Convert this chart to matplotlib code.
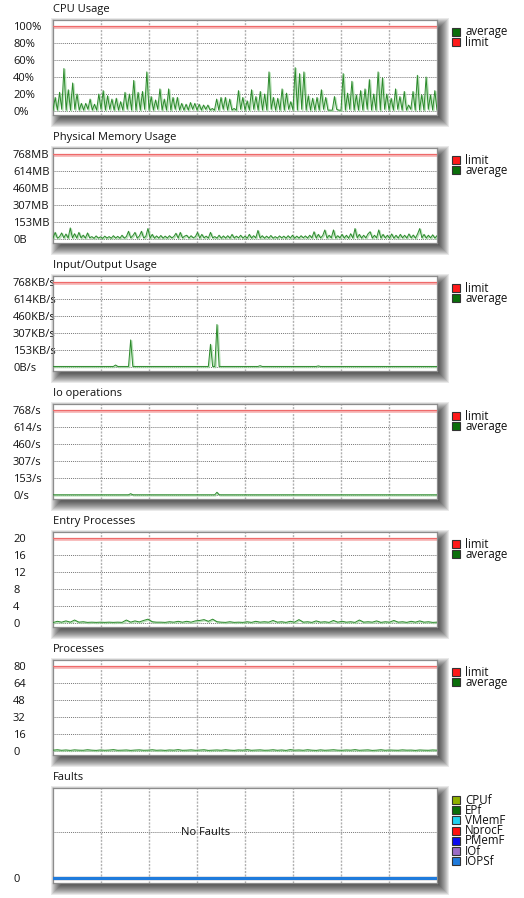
import numpy as np
import matplotlib
matplotlib.use('Agg')
from matplotlib import pyplot as plt
from matplotlib import transforms
from matplotlib.patches import Rectangle

plt.rcParams['font.family'] = ['Open Sans', 'DejaVu Sans']

W, H = 524, 898

# ---- data ----
cpu_ticks = [0, 20, 40, 60, 80, 100]
cpu_tick_labels = ['0%', '20%', '40%', '60%', '80%', '100%']
cpu_limit = 100
cpu_peaks = [16, 22, 50, 25, 33, 20, 9, 9, 14, 8, 20, 24, 18, 14, 15, 11, 22, 20, 36, 22,
             23, 46, 17, 13, 26, 14, 26, 16, 16, 9, 8, 10, 9, 8, 7, 7, 3, 14, 16, 16,
             14, 3, 24, 16, 12, 25, 17, 23,
             20, 46, 16, 15, 26, 21, 11, 51, 44, 46, 18, 15, 16, 25, 16, 1, 17, 1, 44, 21,
             35, 19, 24, 26, 37, 20, 46, 39, 20, 15, 26, 17, 23, 7, 23, 42, 19, 40, 19, 24]
cpu_troughs = [1, 1, 2, 1, 1, 2, 1, 1, 2, 1, 1, 2, 1, 2, 1, 1, 1, 2, 1, 1,
               1, 2, 1, 1, 2, 1, 1, 1, 2, 1, 1, 1, 2, 1, 1, 2, 1, 1, 1, 2,
               1, 1, 1, 2, 1, 1, 2, 1, 1, 1, 2, 1, 1, 1, 2, 1, 1, 2, 1, 1,
               1, 1, 2, 1, 1, 2, 1, 1, 2, 1, 1, 1, 2, 1, 1, 1, 2, 1, 1, 2,
               1, 1, 2, 1, 1, 1, 2, 1, 1]

mem_ticks = [0, 153.6, 307.2, 460.8, 614.4, 768]
mem_tick_labels = ['0B', '153MB', '307MB', '460MB', '614MB', '768MB']
mem_limit = 768
mem_values = [8, 60, 8, 20, 55, 10, 45, 8, 100, 10,
              48, 8, 60, 10, 35, 8, 55, 10, 22, 6,
              28, 8, 20, 6, 26, 8, 22, 7, 30, 8,
              24, 7, 34, 8, 22, 70, 10, 30, 60, 8,
              26, 70, 10, 22, 95, 8, 42, 7, 28, 8,
              32, 7, 26, 8, 30, 10, 22, 52, 8, 60,
              10, 26, 34, 8, 30, 10, 22, 60, 8, 42,
              10, 26, 8, 60, 10, 22, 8, 34, 7, 28,
              8, 30, 7, 42, 8, 26, 10, 34, 8, 26,
              7, 42, 8, 30, 10, 78, 8, 30, 7, 26,
              8, 32, 7, 22, 8, 28, 10, 26, 7, 30,
              8, 34, 7, 26, 8, 30, 10, 28, 8, 34,
              10, 66, 8, 42, 10, 30, 82, 8, 34, 10,
              82, 8, 30, 10, 42, 8, 34, 7, 48, 8,
              95, 10, 42, 8, 34, 10, 46, 66, 8, 34,
              10, 82, 8, 42, 10, 34, 8, 46, 7, 34,
              8, 42, 10, 34, 8, 46, 10, 36, 8, 46,
              95, 10, 42, 8, 34, 10, 38, 8, 30]

io_ticks = [0, 153.6, 307.2, 460.8, 614.4, 768]
io_tick_labels = ['0B/s', '153KB/s', '307KB/s', '460KB/s', '614KB/s', '768KB/s']
io_limit = 768
io_values = ([5] * 29 + [18] + [5] * 6 + [245] + [5] * 36 + [205] + [5] * 2 + [384]
             + [5] * 19 + [12] + [5] * 26 + [10] + [5] * 55)

iops_ticks = [0, 153.6, 307.2, 460.8, 614.4, 768]
iops_tick_labels = ['0/s', '153/s', '307/s', '460/s', '614/s', '768/s']
iops_limit = 768
iops_values = [2] * 36 + [12] + [2] * 39 + [25] + [2] * 102

ep_ticks = [0, 4, 8, 12, 16, 20]
ep_tick_labels = ['0', '4', '8', '12', '16', '20']
ep_limit = 20
ep_values = [0.1, 0.4, 0.2, 0.5, 0.2, 0.7, 0.2, 0.3, 0.15, 0.2,
             0.15, 0.2, 0.15, 0.2, 0.15, 0.2, 0.15, 0.7, 0.2, 0.5,
             0.25, 0.6, 0.9, 0.3, 0.2, 0.2, 0.15, 0.3, 0.2, 0.4,
             0.2, 0.4, 0.2, 0.5, 0.6, 0.8, 0.4, 0.9, 0.3, 0.2,
             0.15, 0.3, 0.15, 0.2, 0.15, 0.3, 0.15, 0.4, 0.2, 0.3,
             0.2, 0.6, 0.2, 0.3, 0.15, 0.4, 0.2, 0.8, 0.2, 0.3,
             0.15, 0.5, 0.2, 0.3, 0.15, 0.6, 0.2, 0.4, 0.2, 0.3,
             0.15, 0.7, 0.2, 0.3, 0.2, 0.5, 0.15, 0.3, 0.2, 0.6,
             0.2, 0.3, 0.15, 0.4, 0.2, 0.5, 0.2, 0.3, 0.15, 0.2]

proc_ticks = [0, 16, 32, 48, 64, 80]
proc_tick_labels = ['0', '16', '32', '48', '64', '80']
proc_limit = 80
proc_values = [0.8, 1.2, 0.7, 1.0, 0.6, 1.1, 0.8, 0.7, 1.2, 0.8,
               0.6, 1.0, 0.7, 0.9, 1.3, 0.7, 0.8, 1.0, 0.6, 0.9,
               1.1, 0.7, 0.8, 1.2, 0.7, 0.9, 0.6, 1.0, 0.8, 1.3,
               0.7, 0.8, 1.1, 0.7, 0.9, 1.2, 0.6, 0.8, 1.0, 0.7,
               1.2, 0.8, 0.6, 1.0, 0.8, 1.3, 0.7, 0.9, 1.1, 0.7,
               0.8, 1.2, 0.7, 1.0, 0.6, 1.3, 0.8, 1.0, 0.7, 1.2,
               0.8, 0.6, 1.1, 0.7, 0.9, 1.2, 0.8, 0.7, 1.0, 0.8,
               1.3, 0.7, 0.9, 1.1, 0.6, 0.8, 1.2, 0.7, 1.0, 0.8,
               0.7, 1.1, 0.8, 0.9, 0.6, 1.0, 0.8, 0.7, 1.0, 0.8]

fault_names = ['CPUf', 'EPf', 'VMemF', 'NprocF', 'PMemF', 'IOf', 'IOPSf']
fault_colors = ['#8fb000', '#0a6e0a', '#1ed2f0', '#ff1010', '#0a0af0', '#9a6cc6', '#1f7bdc']
fault_values = [0, 0, 0, 0, 0, 0, 0, 0, 0]

GREEN = '#2b8a2b'
LEG_GREEN = '#0a6e0a'
LEG_RED = '#ff1a1a'

fig = plt.figure(figsize=(W / 100, H / 100), dpi=100)
fig.set_facecolor('w')


def px_offset(dx, dy):
    return transforms.ScaledTranslation(dx / 100, dy / 100, fig.dpi_scale_trans)


def px_axes(top, height=95, left=53, width=384):
    # css-like box shadow under the plot box
    for e in np.linspace(-6, 7, 14):
        fig.add_artist(Rectangle(((left + 5 - e) / W, 1 - (top + height + 5 + e) / H),
                                 (width + 2 * e) / W, (height + 2 * e) / H,
                                 transform=fig.transFigure, color='k', alpha=0.085,
                                 lw=0, zorder=-2))
    ax = fig.add_axes([left / W, 1 - (top + height) / H, width / W, height / H])
    ax.set_facecolor('w')
    for s in ax.spines.values():
        s.set_color('#8c8c8c')
        s.set_linewidth(0.9)
    return ax


def legend(top, entries):
    y = top + 12
    for label, color in entries:
        fig.add_artist(Rectangle((452 / W, 1 - (y + 4) / H), 8 / W, 8 / H,
                                 transform=fig.transFigure, facecolor=color,
                                 edgecolor='#333333', lw=0.8))
        fig.text(465 / W, 1 - y / H, label, fontsize=8.3, va='center', ha='left',
                 color='#111111')
        y += 10.2


def style_axes(ax, n, ticks, labels, title):
    step = ticks[1] - ticks[0]
    ax.set_xlim(0, n - 1)
    ax.set_ylim(-0.235 * step, ticks[-1] + 0.353 * step)
    ax.set_xticks(np.linspace(0, n - 1, 9)[1:-1])
    ax.set_xticklabels([])
    ax.set_yticks(ticks, labels)
    for lab in ax.get_yticklabels():
        lab.set_horizontalalignment('left')
    ax.tick_params(axis='both', length=0)
    ax.tick_params(axis='y', pad=28.8, labelsize=8, labelcolor='#111111')
    ax.grid(axis='y', ls=(0, (1, 1)), color='#777777', lw=0.7, zorder=0)
    ax.grid(axis='x', ls=(0, (1.5, 1)), color='#b0b0b0', lw=1.0, zorder=0)
    ax.set_title(title, loc='left', fontsize=8, pad=6, color='#111111')


def draw_series(ax, values, color=GREEN):
    x = np.arange(len(values))
    ax.plot(x, values, color='#9fd69f', lw=1.2, alpha=0.7, zorder=2,
            transform=ax.transData + px_offset(1.0, -1.0))
    ax.plot(x, values, color=color, lw=0.7, zorder=3)


def draw_limit(ax, value):
    sh = ax.axhline(value, color='#f7b8b8', lw=2.0, zorder=2)
    sh.set_transform(sh.get_transform() + px_offset(0, -1.2))
    ax.axhline(value, color='#ef6a6a', lw=0.9, zorder=3)


tops = [20, 148, 276, 404, 532, 660, 788]

# CPU: troughs and peaks alternate
cpu_values = np.empty(2 * len(cpu_peaks) + 1)
cpu_values[0::2] = cpu_troughs[:len(cpu_peaks) + 1]
cpu_values[1::2] = cpu_peaks
ax = px_axes(tops[0])
draw_limit(ax, cpu_limit)
draw_series(ax, cpu_values)
style_axes(ax, len(cpu_values), cpu_ticks, cpu_tick_labels, 'CPU Usage')
legend(tops[0], [('average', LEG_GREEN), ('limit', LEG_RED)])

panels = [
    (mem_values, mem_ticks, mem_tick_labels, mem_limit, 'Physical Memory Usage'),
    (io_values, io_ticks, io_tick_labels, io_limit, 'Input/Output Usage'),
    (iops_values, iops_ticks, iops_tick_labels, iops_limit, 'Io operations'),
    (ep_values, ep_ticks, ep_tick_labels, ep_limit, 'Entry Processes'),
    (proc_values, proc_ticks, proc_tick_labels, proc_limit, 'Processes'),
]
for top, (vals, ticks, labels, limit, title) in zip(tops[1:6], panels):
    ax = px_axes(top)
    draw_limit(ax, limit)
    draw_series(ax, vals)
    style_axes(ax, len(vals), ticks, labels, title)
    legend(top, [('limit', LEG_RED), ('average', LEG_GREEN)])

# Faults
ax = px_axes(tops[6])
n = len(fault_values)
for name, color in zip(fault_names, fault_colors):
    ax.plot(np.arange(n), fault_values, color=color, lw=2.2, zorder=3)
ax.set_xlim(0, n - 1)
ax.set_ylim(-0.109, 1.957)
ax.set_xticks(np.linspace(0, n - 1, 9)[1:-1])
ax.set_xticklabels([])
ax.set_yticks([0, 1], ['0', ''])
for lab in ax.get_yticklabels():
    lab.set_horizontalalignment('left')
ax.tick_params(axis='both', length=0)
ax.tick_params(axis='y', pad=28.8, labelsize=8, labelcolor='#111111')
ax.grid(axis='y', ls=(0, (1, 1)), color='#777777', lw=0.7, zorder=0)
ax.grid(axis='x', ls=(0, (1.5, 1)), color='#b0b0b0', lw=1.0, zorder=0)
ax.set_title('Faults', loc='left', fontsize=8, pad=6, color='#111111')
ax.text(0.396, 1, 'No Faults',
        transform=transforms.blended_transform_factory(ax.transAxes, ax.transData),
        ha='center', va='center', fontsize=8, color='#111111', zorder=4)
legend(tops[6], list(zip(fault_names, fault_colors)))

fig.savefig('out.png', dpi=100, facecolor='w')
